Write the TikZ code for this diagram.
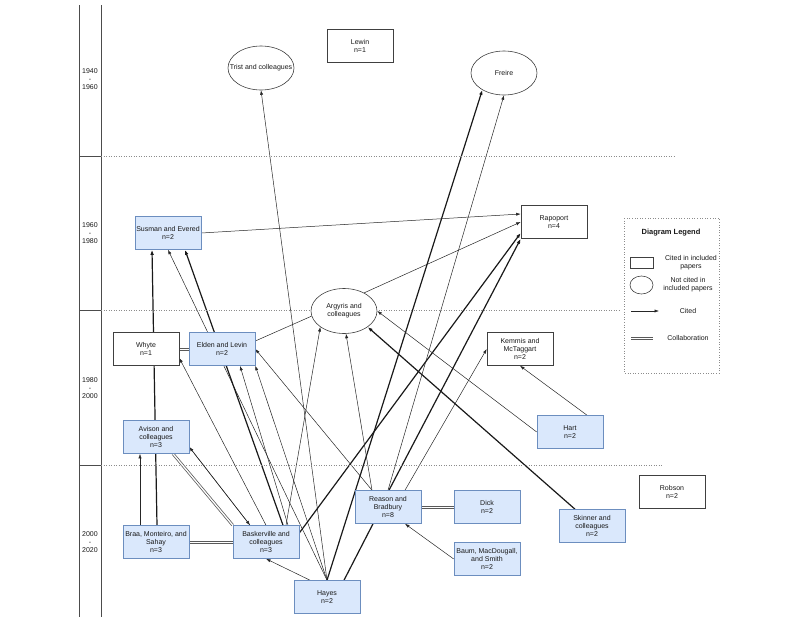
\documentclass[tikz,border=0pt]{standalone}
\usepackage{fontspec}
\setmainfont{Liberation Sans}
\usetikzlibrary{arrows.meta,shapes.geometric,backgrounds}
\definecolor{boxblue}{HTML}{DAE8FC}
\definecolor{lineblue}{HTML}{6C8EBF}
\tikzset{
  paper/.style={draw=lineblue, fill=boxblue, line width=0.6pt,
    minimum width=66pt, minimum height=33pt, align=center, inner sep=1pt},
  book/.style={draw=black!75, fill=white, line width=0.6pt,
    minimum width=66pt, minimum height=33pt, align=center, inner sep=1pt},
  other/.style={ellipse, draw=black!75, fill=white, line width=0.6pt,
    minimum width=66pt, minimum height=44pt, align=center,
    inner xsep=-10pt, inner ysep=0pt},
  cite/.style={-{Latex[length=4.5pt,width=3.2pt]}, line width=0.5pt, draw=black!85},
  citemany/.style={-{Latex[length=5pt,width=3.6pt]}, line width=1.2pt, draw=black!90},
  link/.style={line width=0.5pt, draw=black!85},
  linkmany/.style={line width=1.2pt, draw=black!90},
  collab/.style 2 args={draw=none,
    postaction={draw=black!65, line width=0.6pt, transform canvas={shift={(#1,#2)}}},
    postaction={draw=black!65, line width=0.6pt, transform canvas={shift={(-#1,-#2)}}}},
  era/.style={dotted, draw=black!45, line width=0.5pt},
  period/.style={align=center},
}
\begin{document}
\begin{tikzpicture}[x=1pt,y=-1pt,
    every node/.style={font=\fontsize{7}{8}\selectfont, text=black!90}]
  \useasboundingbox (0,0) rectangle (800,621);

  % Timeline
  \draw [black!70, line width=0.6pt] (79,5) -- (79,617);
  \draw [black!70, line width=0.6pt] (101,5) -- (101,617);
  \draw [black!70, line width=0.6pt] (79,156) -- (101,156);
  \draw [black!70, line width=0.6pt] (79,310) -- (101,310);
  \draw [black!70, line width=0.6pt] (79,465) -- (101,465);
  \draw [era] (101,156) -- (675,156);
  \draw [era] (101,310) -- (620,310);
  \draw [era] (101,465) -- (663,465);
  \node [period] (p1) at (90,79) {1940\\-\\1960};
  \node [period] (p2) at (90,233) {1960\\-\\1980};
  \node [period] (p3) at (90,388) {1980\\-\\2000};
  \node [period] (p4) at (90,542) {2000\\-\\2020};

  % Authors
  \node [book] (lewin) at (360,46) {Lewin\\n=1};
  \node [other] (trist) at (261,68) {Trist and colleagues};
  \node [other] (freire) at (504,73) {Freire};
  \node [paper] (susman) at (168,233) {Susman and Evered\\n=2};
  \node [book] (rapoport) at (554,222) {Rapoport\\n=4};
  \node [other, minimum height=45pt] (argyris) at (344,311) {Argyris and\\colleagues};
  \node [book] (whyte) at (146,349) {Whyte\\n=1};
  \node [paper] (elden) at (222,349) {Elden and Levin\\n=2};
  \node [book] (kemmis) at (520,349) {Kemmis and\\McTaggart\\n=2};
  \node [paper] (hart) at (570,432) {Hart\\n=2};
  \node [paper] (avison) at (156,437) {Avison and\\colleagues\\n=3};
  \node [paper] (braa) at (156,542) {Braa, Monteiro, and\\Sahay\\n=3};
  \node [paper] (basker) at (266,542) {Baskerville and\\colleagues\\n=3};
  \node [paper] (hayes) at (327,597) {Hayes\\n=2};
  \node [paper] (reason) at (388,507) {Reason and\\Bradbury\\n=8};
  \node [paper] (dick) at (487,507) {Dick\\n=2};
  \node [paper] (baum) at (487,559) {Baum, MacDougall,\\and Smith\\n=2};
  \node [paper] (skinner) at (592,526) {Skinner and\\colleagues\\n=2};
  \node [book] (robson) at (672,492) {Robson\\n=2};

  \begin{pgfonlayer}{background}
    % Citations
    \draw [cite] (hayes.north) -- (trist.south);
    \draw [citemany] (hayes.north) -- (freire.218);
    \draw [cite] (hayes.north) -- (susman.south);
    \draw [cite] (hayes.north) -- (elden.south east);
    \draw [cite] ([xshift=-17pt]hayes.north) -- (basker.south);
    \draw [linkmany] ([xshift=17pt]hayes.north) -- ([xshift=-15pt]reason.south);
    \draw [citemany] ([yshift=9pt]basker.east) -- ([yshift=-11pt]rapoport.west);
    \draw [citemany] ([xshift=17pt]basker.north) -- ([xshift=17pt]susman.south);
    \draw [cite] ([xshift=20pt]basker.north) -- (argyris.214);
    \draw [cite] ([xshift=22pt]basker.north) -- ([xshift=18pt]elden.south);
    \draw [cite] (basker.north) -- ([yshift=-9pt]whyte.east);
    \draw [cite] ([xshift=-16pt]basker.north) -- ([yshift=-10pt]avison.east);
    \draw [cite] ([yshift=-10pt]avison.east) -- ([xshift=-16pt]basker.north);
    \draw [cite] (reason.north) -- (freire.south);
    \draw [citemany] ([xshift=1pt]reason.north) -- (rapoport.south west);
    \draw [cite] ([xshift=17pt]reason.north) -- (kemmis.west);
    \draw [cite] ([xshift=-16pt]reason.north) -- (elden.east);
    \draw [cite] ([xshift=-16pt]reason.north) -- (argyris.275);
    \draw [citemany] ([xshift=1pt]braa.north) -- ([xshift=-16pt]susman.south);
    \draw [cite] ([xshift=-16pt]braa.north) -- ([xshift=-16pt]avison.south);
    \draw [cite] (baum.west) -- ([xshift=17pt]reason.south);
    \draw [cite] (hart.west) -- (argyris.east);
    \draw [cite] ([xshift=17pt]hart.north) -- (kemmis.south);
    \draw [citemany] ([xshift=-17pt]skinner.north) -- (argyris.326);
    \draw [cite] (susman.east) -- ([yshift=8pt]rapoport.west);
    \draw [cite] (argyris.42) -- (rapoport.west);
    \draw [link] ([yshift=8pt]elden.east) -- (argyris.189);
    % Collaborations
    \draw [collab={0.85}{-0.7}] ([xshift=17pt]avison.south) -- (basker.north west);
    \draw [collab={0}{1.1}] (braa.east) -- (basker.west);
    \draw [collab={0}{1.1}] (whyte.east) -- (elden.west);
    \draw [collab={0}{1.1}] (reason.east) -- (dick.west);
  \end{pgfonlayer}

  % Legend
  \draw [dotted, draw=black!45, line width=0.6pt] (624,218) rectangle (719,373);
  \node [font=\fontsize{7.5}{9}\selectfont\bfseries] (legtitle) at (671,233) {Diagram Legend};
  \node [book, minimum width=23pt, minimum height=11pt] (legbook) at (641.5,262.5) {};
  \node [align=center] (legbooktext) at (691,263) {Cited in included\\papers};
  \node [other, minimum width=23pt, minimum height=18pt] (legother) at (641.5,285) {};
  \node [align=center] (legothertext) at (688,285) {Not cited in\\included papers};
  \coordinate (legciteA) at (631,311);
  \coordinate (legciteB) at (659,311);
  \draw [cite] (legciteA) -- (legciteB);
  \node (legcitetext) at (688,311) {Cited};
  \coordinate (legcollabA) at (631,338);
  \coordinate (legcollabB) at (653,338);
  \draw [collab={0}{1.1}] (legcollabA) -- (legcollabB);
  \node (legcollabtext) at (688,338) {Collaboration};
\end{tikzpicture}
\end{document}
